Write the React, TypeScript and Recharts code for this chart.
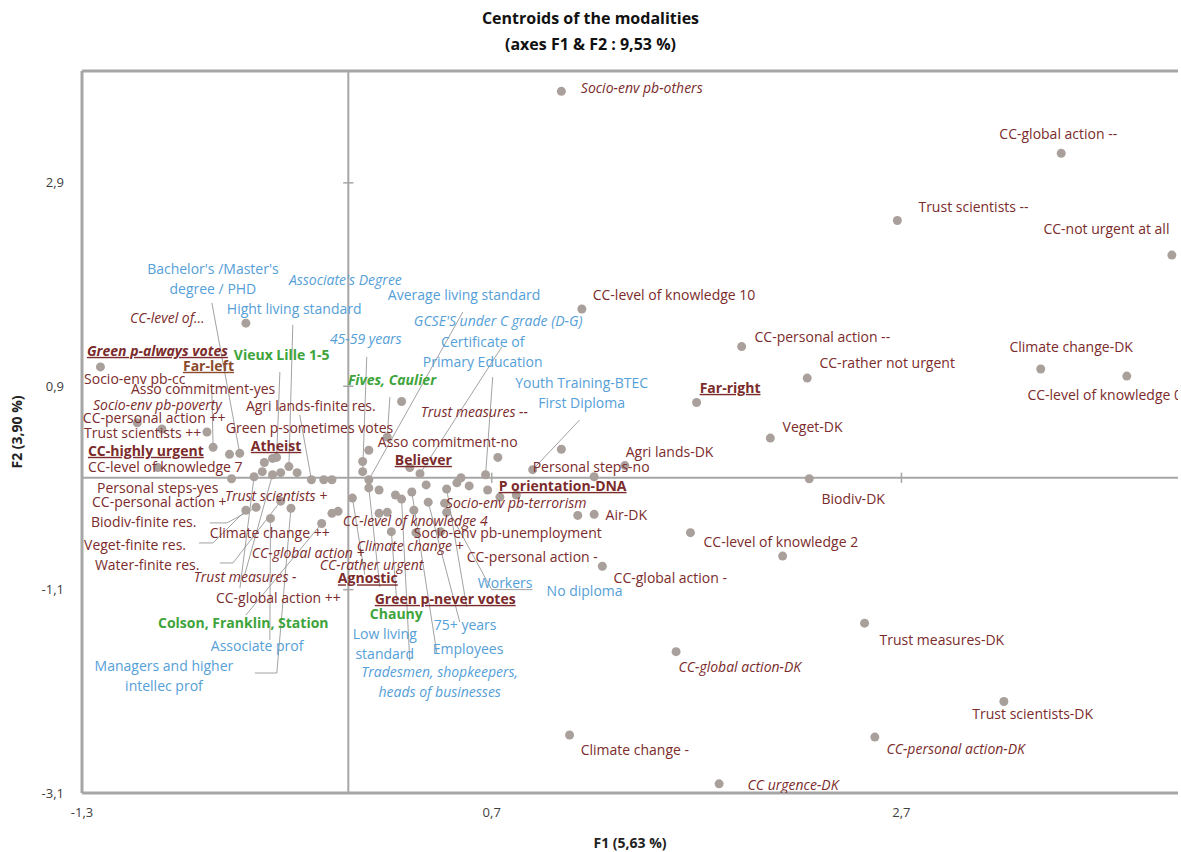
import React from 'react';
import { ScatterChart, Scatter, XAxis, YAxis, ReferenceLine } from 'recharts';

type Modality = [string, number, number];

// modalities away from the central cloud: [label, F1, F2]
const outerModalities: Modality[] = [
  ['Socio-env pb-others', 1.04, 3.8],
  ['CC-global action --', 3.48, 3.19],
  ['Trust scientists --', 2.68, 2.53],
  ['CC-not urgent at all', 4.02, 2.19],
  ['CC-level of knowledge 10', 1.14, 1.66],
  ['CC-personal action --', 1.92, 1.29],
  ['CC-rather not urgent', 2.24, 0.98],
  ['Climate change-DK', 3.38, 1.07],
  ['CC-level of knowledge 0', 3.8, 1.0],
  ['Far-right', 1.7, 0.74],
  ['Veget-DK', 2.06, 0.39],
  ['Agri lands-DK', 1.35, 0.12],
  ['Biodiv-DK', 2.25, -0.01],
  ['Air-DK', 1.2, -0.36],
  ['', 1.12, -0.37],
  ['CC-level of knowledge 2', 1.67, -0.54],
  ['', 2.12, -0.77],
  ['CC-global action -', 1.24, -0.87],
  ['Trust measures-DK', 2.52, -1.43],
  ['CC-global action-DK', 1.6, -1.71],
  ['Trust scientists-DK', 3.2, -2.2],
  ['Climate change -', 1.08, -2.53],
  ['CC-personal action-DK', 2.57, -2.55],
  ['CC urgence-DK', 1.81, -3.01],
  ['Green p-always votes', -1.21, 1.09],
  ['CC-level of…', -0.5, 1.52],
];

// modalities of the central cloud ('' = no label shown)
const cloudModalities: Modality[] = [
  ['CC-personal action ++', -1.03, 0.54],
  ['Socio-env pb-poverty', -0.91, 0.48],
  ['Trust scientists ++', -0.69, 0.45],
  ['Asso commitment-yes', -0.66, 0.3],
  ['CC-highly urgent', -0.58, 0.23],
  ["Bachelor's /Master's degree / PHD", -0.53, 0.24],
  ['CC-level of knowledge 7', -0.93, 0.1],
  ['Far-left', -0.41, 0.15],
  ['Atheist', -0.37, 0.19],
  ['Vieux Lille 1-5', -0.35, 0.2],
  ['Hight living standard', -0.29, 0.11],
  ['Personal steps-yes', -0.57, -0.01],
  ['CC-global action ++', -0.46, 0.01],
  ['', -0.42, 0.06],
  ['Trust measures -', -0.37, 0.03],
  ['CC-personal action +', -0.33, 0.05],
  ['Green p-sometimes votes', -0.25, 0.05],
  ['Agri lands-finite res.', -0.18, -0.02],
  ['Trust scientists +', -0.12, -0.02],
  ['Socio-env pb-cc', -0.08, -0.02],
  ['Veget-finite res.', -0.5, -0.32],
  ['Biodiv-finite res.', -0.45, -0.29],
  ['Associate prof', -0.38, -0.4],
  ['Water-finite res.', -0.33, -0.23],
  ['Managers and higher intellec prof', -0.28, -0.3],
  ['Colson, Franklin, Station', -0.13, -0.45],
  ['Climate change ++', -0.08, -0.35],
  ['CC-global action +', -0.05, -0.33],
  ['Agnostic', 0.02, -0.2],
  ['CC-rather urgent', 0.07, 0.16],
  ['45-59 years', 0.07, 0.06],
  ['Believer', 0.1, 0.27],
  ['Average living standard', 0.1, -0.02],
  ['Chauny', 0.1, -0.1],
  ['Fives, Caulier', 0.19, 0.4],
  ['Asso commitment-no', 0.26, 0.75],
  ['CC-level of knowledge 4', 0.15, -0.35],
  ['Climate change +', 0.19, -0.34],
  ['', 0.15, -0.12],
  ['', 0.23, -0.17],
  ['Tradesmen, shopkeepers, heads of businesses', 0.26, -0.21],
  ['Employees', 0.31, -0.14],
  ["Associate's Degree", 0.3, 0.1],
  ['Certificate of Primary Education', 0.35, 0.04],
  ['', 0.38, -0.07],
  ['75+ years', 0.39, -0.24],
  ['Workers', 0.47, -0.25],
  ['Green p-never votes', 0.48, -0.11],
  ['Socio-env pb-unemployment', 0.48, -0.34],
  ['', 0.32, -0.32],
  ['Low living standard', 0.21, -0.53],
  ['', 0.33, -0.54],
  ['', 0.45, -0.53],
  ['', 0.53, -0.05],
  ["GCSE'S under C grade (D-G)", 0.55, 0.0],
  ['', 0.59, -0.08],
  ['Trust measures --', 0.67, 0.03],
  ['No diploma', 0.68, -0.12],
  ['', 0.73, 0.2],
  ['CC-personal action -', 0.74, -0.19],
  ['Socio-env pb-terrorism', 0.82, -0.17],
  ['Youth Training-BTEC First Diploma', 0.9, 0.08],
  ['Personal steps-no', 1.04, 0.28],
  ['P orientation-DNA', 1.2, 0.01],
];

const xTicks = [-1.3, 0.7, 2.7];
const yTicks = [-3.1, -1.1, 0.9, 2.9];
const xDomain = [-1.3, 4.05];
const yDomain = [-3.1, 4.0];

const chartTitle = ['Centroids of the modalities', '(axes F1 & F2 : 9,53 %)'];
const xTitle = 'F1 (5,63 %)';
const yTitle = 'F2 (3,90 %)';

// where each label sits (F1, F2 of the text anchor) and how it is drawn
// r = dark red, b = blue, g = green; i = italic, u = bold underlined
const labelLayout: [string[], number, number, string][] = [
  [['Socio-env pb-others'], 1.135, 3.833, 'ri'],
  [['CC-global action --'], 3.178, 3.381, 'r'],
  [['Trust scientists --'], 2.783, 2.663, 'r'],
  [['CC-not urgent at all'], 3.393, 2.446, 'r'],
  [['CC-level of knowledge 10'], 1.193, 1.797, 'r'],
  [['CC-personal action --'], 1.983, 1.384, 'r'],
  [['CC-rather not urgent'], 2.3, 1.129, 'r'],
  [['Climate change-DK'], 3.227, 1.286, 'r'],
  [['CC-level of knowledge 0'], 3.315, 0.814, 'r'],
  [['Far-right'], 1.715, 0.883, 'ru'],
  [['Veget-DK'], 2.12, 0.5, 'r'],
  [['Agri lands-DK'], 1.354, 0.254, 'r'],
  [['Personal steps-no'], 0.9, 0.106, 'r'],
  [['Biodiv-DK'], 2.31, -0.208, 'r'],
  [['Air-DK'], 1.256, -0.366, 'r'],
  [['CC-level of knowledge 2'], 1.734, -0.631, 'r'],
  [['CC-global action -'], 1.295, -0.985, 'r'],
  [['Trust measures-DK'], 2.593, -1.595, 'r'],
  [['CC-global action-DK'], 1.612, -1.86, 'ri'],
  [['Trust scientists-DK'], 3.046, -2.322, 'r'],
  [['Climate change -'], 1.134, -2.676, 'r'],
  [['CC-personal action-DK'], 2.627, -2.667, 'ri'],
  [['CC urgence-DK'], 1.949, -3.021, 'ri'],
  [["Bachelor's /Master's", 'degree / PHD'], -0.661, 2.053, 'b'],
  [["Associate's Degree"], -0.29, 1.945, 'bi'],
  [['Hight living standard'], -0.593, 1.66, 'b'],
  [['Average living standard'], 0.193, 1.797, 'b'],
  [["GCSE'S under C grade (D-G)"], 0.32, 1.542, 'bi'],
  [['CC-level of…'], -1.066, 1.571, 'ri'],
  [['45-59 years'], -0.09, 1.365, 'bi'],
  [['Certificate of', 'Primary Education'], 0.656, 1.335, 'b'],
  [['Green p-always votes'], -1.276, 1.247, 'rui'],
  [['Vieux Lille 1-5'], -0.559, 1.208, 'g'],
  [['Far-left'], -0.807, 1.1, 'fl'],
  [['Fives, Caulier'], -0.002, 0.962, 'gi'],
  [['Youth Training-BTEC', 'First Diploma'], 1.139, 0.932, 'b'],
  [['Socio-env pb-cc'], -1.29, 0.972, 'r'],
  [['Asso commitment-yes'], -1.061, 0.873, 'r'],
  [['Socio-env pb-poverty'], -1.246, 0.716, 'ri'],
  [['Agri lands-finite res.'], -0.5, 0.706, 'r'],
  [['Trust measures --'], 0.354, 0.647, 'ri'],
  [['CC-personal action ++'], -1.296, 0.585, 'r'],
  [['Green p-sometimes votes'], -0.598, 0.49, 'r'],
  [['Trust scientists ++'], -1.29, 0.436, 'r'],
  [['Asso commitment-no'], 0.144, 0.352, 'r'],
  [['CC-highly urgent'], -1.271, 0.264, 'ru'],
  [['Atheist'], -0.476, 0.313, 'ru'],
  [['Believer'], 0.227, 0.175, 'ru'],
  [['CC-level of knowledge 7'], -1.271, 0.106, 'r'],
  [['P orientation-DNA'], 0.734, -0.081, 'ru'],
  [['Personal steps-yes'], -1.227, -0.1, 'r'],
  [['Trust scientists +'], -0.602, -0.179, 'ri'],
  [['CC-personal action +'], -1.251, -0.238, 'r'],
  [['Socio-env pb-terrorism'], 0.476, -0.248, 'ri'],
  [['Biodiv-finite res.'], -1.256, -0.435, 'r'],
  [['CC-level of knowledge 4'], -0.027, -0.425, 'ri'],
  [['Climate change ++'], -0.676, -0.543, 'r'],
  [['Socio-env pb-unemployment'], 0.32, -0.543, 'r'],
  [['Veget-finite res.'], -1.29, -0.661, 'r'],
  [['Climate change +'], 0.041, -0.671, 'ri'],
  [['CC-global action +'], -0.471, -0.739, 'ri'],
  [['CC-personal action -'], 0.578, -0.779, 'r'],
  [['Water-finite res.'], -1.237, -0.857, 'r'],
  [['CC-rather urgent'], -0.139, -0.862, 'ri'],
  [['Trust measures -'], -0.754, -0.975, 'ri'],
  [['Agnostic'], -0.051, -0.99, 'ru'],
  [['Workers'], 0.632, -1.034, 'b'],
  [['No diploma'], 0.968, -1.113, 'b'],
  [['CC-global action ++'], -0.646, -1.182, 'r'],
  [['Green p-never votes'], 0.129, -1.192, 'ru'],
  [['Chauny'], 0.105, -1.339, 'g'],
  [['Colson, Franklin, Station'], -0.929, -1.428, 'g'],
  [['75+ years'], 0.417, -1.447, 'b'],
  [['Low living', 'standard'], 0.178, -1.536, 'b'],
  [['Associate prof'], -0.671, -1.654, 'b'],
  [['Employees'], 0.412, -1.683, 'b'],
  [['Managers and higher', 'intellec prof'], -0.9, -1.851, 'b'],
  [['Tradesmen, shopkeepers,', 'heads of businesses'], 0.446, -1.91, 'bi'],
];

// leader lines: path from the label side, ending on the named modality
const leaders: [number[][], string][] = [
  [[[-0.666, 1.719]], "Bachelor's /Master's degree / PHD"],
  [[[-0.271, 1.503]], 'Hight living standard'],
  [[[-0.334, 1.04]], 'Vieux Lille 1-5'],
  [[[-0.237, 0.617]], 'Agri lands-finite res.'],
  [[[0.09, 1.188]], '45-59 years'],
  [[[0.559, 1.63]], 'Average living standard'],
  [[[0.749, 1.286]], 'Certificate of Primary Education'],
  [[[0.203, 0.795]], 'Fives, Caulier'],
  [[[0.705, 0.991]], 'Trust measures --'],
  [[[1.129, 0.568]], 'Youth Training-BTEC First Diploma'],
  [[[0.578, -1.27]], 'Green p-never votes'],
  [[[0.544, -1.418]], '75+ years'],
  [[[0.432, -1.723]], 'Employees'],
  [[[0.237, -1.231]], 'Low living standard'],
  [[[0.154, -1.074]], 'Chauny'],
  [[[0.9, -1.1], [0.7, -1.1]], 'Workers'],
  [[[-0.456, -1.92], [-0.349, -1.92]], 'Managers and higher intellec prof'],
  [[[-0.383, -1.595]], 'Associate prof'],
  [[[-0.5, -1.35]], 'Colson, Franklin, Station'],
  [[[-0.676, -0.444], [-0.593, -0.444]], 'Biodiv-finite res.'],
  [[[-0.729, -0.641], [-0.661, -0.641]], 'Veget-finite res.'],
  [[[-0.627, -0.838], [-0.563, -0.838]], 'Water-finite res.'],
  [[[-0.529, -1.084]], 'CC-global action ++'],
  [[[-0.505, -0.947]], 'Trust measures -'],
  [[[-0.666, 0.834]], 'Asso commitment-yes'],
  [[[0.3, -1.8]], 'Tradesmen, shopkeepers, heads of businesses'],
  [[[0.08, -0.95]], 'Agnostic'],
];

const W = 1181;
const H = 852;
const FONT = "'Open Sans', 'DejaVu Sans', sans-serif";
const RED = '#7b2b2b';
const BLUE = '#55a0d8';
const GREEN = '#3ea43b';
const AXIS = '#a6a6a6';
const DOT = '#a9a09c';
const LEADER = '#8a8a8a';

const labelStyles: Record<string, React.CSSProperties> = {
  r: { fill: RED },
  ri: { fill: RED, fontStyle: 'italic' },
  ru: { fill: RED, fontWeight: 700, textDecoration: 'underline' },
  rui: { fill: RED, fontWeight: 700, fontStyle: 'italic', textDecoration: 'underline' },
  fl: { fill: '#8c4a2b', fontWeight: 700, textDecoration: 'underline' },
  b: { fill: BLUE },
  bi: { fill: BLUE, fontStyle: 'italic' },
  g: { fill: GREEN, fontWeight: 700 },
  gi: { fill: GREEN, fontWeight: 700, fontStyle: 'italic' },
};

const allModalities = [...outerModalities, ...cloudModalities];
const pointData = allModalities.map(([name, x, y]) => ({ name, x, y }));
const byName: Record<string, { x: number; y: number }> = {};
allModalities.forEach(([name, x, y]) => {
  if (name) byName[name] = { x, y };
});
const labelData = labelLayout.map(([lines, x, y, style]) => ({ lines, x, y, style }));

const leaderSegments: { x: number; y: number }[][] = [];
leaders.forEach(([path, target]) => {
  const pts = [...path.map(([x, y]) => ({ x, y })), byName[target]];
  for (let i = 0; i < pts.length - 1; i++) leaderSegments.push([pts[i], pts[i + 1]]);
});

// small cross marks where the tick values meet the zero lines
const crossMarks = [
  ...yTicks.slice(1).map((t) => [{ x: -0.025, y: t }, { x: 0.025, y: t }]),
  ...xTicks.slice(1).map((t) => [{ x: t, y: -0.05 }, { x: t, y: 0.05 }]),
];

const fmt = (v: number) => String(v).replace('.', ',');

const Dot = (props: any) => <circle cx={props.cx} cy={props.cy} r={4.5} fill={DOT} />;

const LabelText = (props: any) => {
  const { cx, cy, payload } = props;
  const multi = payload.lines.length > 1;
  return (
    <text
      x={cx}
      y={cy}
      textAnchor={multi ? 'middle' : 'start'}
      fontFamily={FONT}
      fontSize={14}
      style={labelStyles[payload.style]}
    >
      {payload.lines.map((line: string, i: number) => (
        <tspan key={i} x={cx} dy={i === 0 ? '0.35em' : 20}>
          {line}
        </tspan>
      ))}
    </text>
  );
};

export default function App() {
  return (
    <div style={{ position: 'absolute', left: 0, top: 0, width: W, height: H, background: '#fff', overflow: 'hidden' }}>
      <div
        style={{
          position: 'absolute',
          left: 0,
          top: 5,
          width: W,
          textAlign: 'center',
          fontFamily: FONT,
          fontWeight: 700,
          fontSize: 16,
          lineHeight: '26px',
          color: '#111',
        }}
      >
        {chartTitle.map((t) => (
          <div key={t}>{t}</div>
        ))}
      </div>
      <ScatterChart width={W} height={H} margin={{ top: 71, right: 3, bottom: 0, left: 0 }}>
        <XAxis
          type="number"
          dataKey="x"
          domain={xDomain}
          ticks={xTicks}
          interval={0}
          allowDataOverflow
          height={59}
          tickLine={false}
          tickSize={0}
          tickMargin={15}
          axisLine={{ stroke: AXIS, strokeWidth: 3 }}
          tick={{ fill: '#404040', fontSize: 13, fontFamily: FONT }}
          tickFormatter={fmt}
        />
        <YAxis
          type="number"
          dataKey="y"
          domain={yDomain}
          ticks={yTicks}
          interval={0}
          allowDataOverflow
          width={82}
          tickLine={false}
          tickSize={0}
          tickMargin={18}
          axisLine={{ stroke: AXIS, strokeWidth: 3 }}
          tick={{ fill: '#404040', fontSize: 13, fontFamily: FONT }}
          tickFormatter={fmt}
        />
        <ReferenceLine y={yDomain[1]} stroke={AXIS} strokeWidth={3} />
        <ReferenceLine x={0} stroke={AXIS} strokeWidth={2} />
        <ReferenceLine y={0} stroke={AXIS} strokeWidth={2} />
        {crossMarks.map((seg, i) => (
          <ReferenceLine key={'c' + i} segment={seg} stroke={AXIS} strokeWidth={1.5} />
        ))}
        {leaderSegments.map((seg, i) => (
          <ReferenceLine key={'l' + i} segment={seg} stroke={LEADER} strokeWidth={0.8} />
        ))}
        <Scatter data={pointData} shape={Dot} isAnimationActive={false} />
        <Scatter data={labelData} shape={LabelText} isAnimationActive={false} />
      </ScatterChart>
      <div
        style={{
          position: 'absolute',
          left: 530,
          top: 834,
          width: 200,
          textAlign: 'center',
          fontFamily: FONT,
          fontWeight: 700,
          fontSize: 14,
          lineHeight: '18px',
          color: '#222',
        }}
      >
        {xTitle}
      </div>
      <div
        style={{
          position: 'absolute',
          left: -83,
          top: 423,
          width: 200,
          textAlign: 'center',
          fontFamily: FONT,
          fontWeight: 700,
          fontSize: 14,
          lineHeight: '18px',
          color: '#222',
          transform: 'rotate(-90deg)',
        }}
      >
        {yTitle}
      </div>
    </div>
  );
}
